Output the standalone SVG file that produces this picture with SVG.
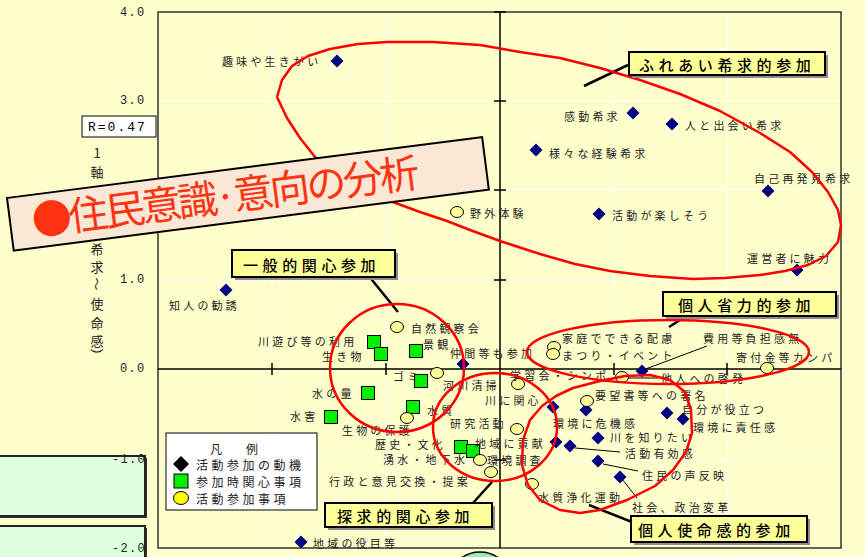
<svg xmlns="http://www.w3.org/2000/svg" width="865" height="557" viewBox="0 0 865 557">
<style>
.lb{font-family:"Noto Sans CJK JP","Noto Sans CJK SC",sans-serif;font-size:11px;letter-spacing:3.2px;fill:#222;dominant-baseline:central}
.ax{font-family:"Liberation Mono",monospace;font-size:12px;letter-spacing:1.3px;fill:#222;dominant-baseline:central}
.vt{font-family:"Noto Sans CJK JP",sans-serif;font-size:13px;fill:#222;text-anchor:middle;dominant-baseline:central}
.lg{font-family:"Noto Sans CJK JP",sans-serif;font-size:12px;letter-spacing:3.5px;fill:#222;dominant-baseline:central}
.co{font-family:"Noto Sans CJK JP",sans-serif;font-size:15px;letter-spacing:4.6px;fill:#000;dominant-baseline:central;font-weight:500}
.cob{fill:#FFFF99;stroke:#000;stroke-width:2}
.cos{fill:#8c8c8c}
.red{fill:none;stroke:#FF0000;stroke-width:2.5;stroke-linejoin:round}
.grid{stroke:#FFFFFF;stroke-width:1}
.ld{stroke:#000;stroke-width:1}
.ldt{stroke:#000;stroke-width:2.5}
</style>
<defs>
<path id="dm" d="M0,-6.5 L6.5,0 L0,6.5 L-6.5,0Z" fill="#000080"/>
<rect id="sq" x="-6.5" y="-6.5" width="13" height="13" fill="#00EE00" stroke="#000" stroke-width="1"/>
<ellipse id="ci" rx="6.5" ry="5.5" fill="#FFFF99" stroke="#000" stroke-width="1"/>
</defs>
<rect x="0" y="0" width="865" height="557" fill="#FFFFCC"/>
<g id="plot">
<rect x="158" y="12" width="683" height="536" fill="#FFFFCC" stroke="#333" stroke-width="1.5"/>
<g class="grid">
<line x1="272" y1="13" x2="272" y2="547"/><line x1="386" y1="13" x2="386" y2="547"/>
<line x1="614" y1="13" x2="614" y2="547"/><line x1="727" y1="13" x2="727" y2="547"/>
<line x1="159" y1="101" x2="840" y2="101"/><line x1="159" y1="190" x2="840" y2="190"/>
<line x1="159" y1="280" x2="840" y2="280"/><line x1="159" y1="460" x2="840" y2="460"/>
</g>
<g stroke="#000" stroke-width="1.5">
<line x1="500" y1="12" x2="500" y2="548"/><line x1="158" y1="369" x2="841" y2="369"/>
<line x1="494" y1="12" x2="506" y2="12"/><line x1="494" y1="101" x2="506" y2="101"/><line x1="494" y1="190" x2="506" y2="190"/><line x1="494" y1="280" x2="506" y2="280"/><line x1="494" y1="460" x2="506" y2="460"/>
<line x1="272" y1="363" x2="272" y2="375"/><line x1="386" y1="363" x2="386" y2="375"/><line x1="614" y1="363" x2="614" y2="375"/><line x1="727" y1="363" x2="727" y2="375"/>
</g>
</g>
<g id="leftboxes">
<rect x="0" y="458" width="147" height="60" fill="#333"/>
<rect x="-2" y="456" width="147" height="60" fill="#DDFFDD" stroke="#222" stroke-width="2"/>
<rect x="0" y="528" width="147" height="40" fill="#333"/>
<rect x="-2" y="526" width="147" height="40" fill="#DDFFDD" stroke="#222" stroke-width="2"/>
</g>
<ellipse cx="480" cy="576" rx="28" ry="24" fill="#99EEBB" stroke="#000" stroke-width="1.5"/>
<g id="axis">
<text class="ax" x="120" y="13">4.0</text>
<text class="ax" x="120" y="101">3.0</text>
<text class="ax" x="120" y="280">1.0</text>
<text class="ax" x="120" y="369">0.0</text>
<text class="ax" x="112" y="460">-1.0</text>
<text class="ax" x="112" y="549">-2.0</text>
<rect x="82" y="116" width="74" height="21" fill="#FFF" stroke="#000" stroke-width="1"/>
<text x="88" y="127" style="font-family:'Liberation Mono',monospace;font-size:13px;letter-spacing:2px;fill:#000;dominant-baseline:central">R=0.47</text>
<text class="vt" x="97" y="152">1</text>
<text class="vt" x="97" y="171">軸</text>
<text class="vt" x="97" y="248">希</text>
<text class="vt" x="97" y="266">求</text>
<text class="vt" x="97" y="284" transform="rotate(90 97 284)">～</text>
<text class="vt" x="97" y="303">使</text>
<text class="vt" x="97" y="322">命</text>
<text class="vt" x="97" y="340">感</text>
<text class="vt" x="97" y="355" transform="rotate(90 97 355)">）</text>
</g>
<g id="legend">
<rect x="166" y="433" width="151" height="77" fill="#FFF" stroke="#000" stroke-width="1"/>
<text x="210" y="448" style="font-family:'Noto Sans CJK JP',sans-serif;font-size:12px;fill:#222;dominant-baseline:central">凡　　例</text>
<path d="M181,456 L189,464 L181,472 L173,464Z" fill="#000"/>
<text class="lg" x="196" y="464">活動参加の動機</text>
<rect x="174" y="474" width="14" height="14" fill="#00EE00" stroke="#000"/>
<text class="lg" x="196" y="481">参加時関心事項</text>
<ellipse cx="181" cy="498" rx="7.5" ry="6.5" fill="#FFFF00" stroke="#000"/>
<text class="lg" x="196" y="498">活動参加事項</text>
</g>
<g id="connectors">
<line class="ld" x1="707" y1="346" x2="643" y2="370"/>
<line class="ld" x1="628" y1="378" x2="658" y2="378"/>
<line class="ld" x1="575" y1="448" x2="620" y2="452"/>
<line class="ld" x1="603" y1="464" x2="638" y2="471"/>
<line class="ld" x1="622" y1="479" x2="637" y2="498"/>
<line class="ldt" x1="584" y1="86" x2="628" y2="65"/>
<line class="ldt" x1="368" y1="275" x2="398" y2="312"/>
<line class="ldt" x1="688" y1="315" x2="669" y2="327"/>
<line class="ldt" x1="473" y1="503" x2="492" y2="482"/>
<line class="ldt" x1="589" y1="505" x2="632" y2="522"/>
</g>
<g id="markers">
<use href="#dm" x="337" y="61"/><use href="#dm" x="633" y="113"/><use href="#dm" x="672" y="124"/>
<use href="#dm" x="536" y="150"/><use href="#dm" x="768" y="191"/><use href="#dm" x="599" y="214"/>
<use href="#dm" x="797" y="270"/><use href="#dm" x="226" y="290"/><use href="#dm" x="463" y="364"/>
<use href="#dm" x="642" y="371"/><use href="#dm" x="553" y="407"/><use href="#dm" x="586" y="410"/>
<use href="#dm" x="667" y="413"/><use href="#dm" x="683" y="419"/><use href="#dm" x="598" y="438"/>
<use href="#dm" x="556" y="442"/><use href="#dm" x="570" y="446"/><use href="#dm" x="598" y="461"/>
<use href="#dm" x="620" y="477"/><use href="#dm" x="301" y="542"/>
<use href="#sq" x="374" y="342"/><use href="#sq" x="381" y="354"/><use href="#sq" x="416" y="351"/>
<use href="#sq" x="421" y="381"/><use href="#sq" x="368" y="393"/><use href="#sq" x="331" y="417"/>
<use href="#sq" x="413" y="407"/><use href="#sq" x="461" y="447"/><use href="#sq" x="473" y="451"/>
<use href="#ci" x="457" y="212"/><use href="#ci" x="397" y="327"/><use href="#ci" x="554" y="347"/>
<use href="#ci" x="553" y="354"/><use href="#ci" x="767" y="368"/><use href="#ci" x="518" y="384"/>
<use href="#ci" x="622" y="377"/><use href="#ci" x="437" y="373"/><use href="#ci" x="587" y="401"/>
<use href="#ci" x="517" y="429"/><use href="#ci" x="480" y="460"/><use href="#ci" x="491" y="472"/>
<use href="#ci" x="532" y="484"/><use href="#ci" x="407" y="418"/>
</g>
<g id="labels">
<text class="lb" x="222" y="61">趣味や生きがい</text>
<text class="lb" x="564" y="116">感動希求</text>
<text class="lb" x="685" y="125">人と出会い希求</text>
<text class="lb" x="549" y="153">様々な経験希求</text>
<text class="lb" x="754" y="178">自己再発見希求</text>
<text class="lb" x="612" y="215">活動が楽しそう</text>
<text class="lb" x="747" y="258">運営者に魅力</text>
<text class="lb" x="470" y="213">野外体験</text>
<text class="lb" x="169" y="305">知人の勧誘</text>
<text class="lb" x="411" y="328">自然観察会</text>
<text class="lb" x="258" y="341">川遊び等の利用</text>
<text class="lb" x="322" y="356">生き物</text>
<text class="lb" x="423" y="344">景観</text>
<text class="lb" x="450" y="353">仲間等も参加</text>
<text class="lb" x="562" y="338">家庭でできる配慮</text>
<text class="lb" x="562" y="355">まつり・イベント</text>
<text class="lb" x="703" y="338">費用等負担感無</text>
<text class="lb" x="736" y="357">寄付金等カンパ</text>
<text class="lb" x="510" y="375">学習会・シンポ</text>
<text class="lb" x="661" y="378">他人への啓発</text>
<text class="lb" x="443" y="385">河川清掃</text>
<text class="lb" x="393" y="376">ゴミ</text>
<text class="lb" x="485" y="400">川に関心</text>
<text class="lb" x="595" y="395">要望書等への署名</text>
<text class="lb" x="682" y="409">自分が役立つ</text>
<text class="lb" x="693" y="427">環境に責任感</text>
<text class="lb" x="553" y="423">環境に危機感</text>
<text class="lb" x="610" y="437">川を知りたい</text>
<text class="lb" x="475" y="443">地域に貢献</text>
<text class="lb" x="625" y="453">活動有効感</text>
<text class="lb" x="642" y="475">住民の声反映</text>
<text class="lb" x="632" y="507">社会、政治変革</text>
<text class="lb" x="538" y="497">水質浄化運動</text>
<text class="lb" x="487" y="460">環境調査</text>
<text class="lb" x="450" y="423">研究活動</text>
<text class="lb" x="329" y="481">行政と意見交換・提案</text>
<text class="lb" x="375" y="444">歴史・文化</text>
<text class="lb" x="383" y="459">湧水・地下水</text>
<text class="lb" x="312" y="393">水の量</text>
<text class="lb" x="290" y="416">水害</text>
<text class="lb" x="427" y="410">水質</text>
<text class="lb" x="342" y="430">生物の保護</text>
<text class="lb" x="313" y="543">地域の役目等</text>
</g>
<g id="groups">
<polyline class="red" points="277,97 282,80 292,66 308,56 330,49 358,44 387,42 433,42 480,45 520,52 560,58 600,68 640,80 680,94 720,111 760,133 790,152 812,172 828,192 838,210 841,225 838,242 826,256 808,265 785,271 760,275 725,278 693,279 650,276 610,271 575,264 540,254 500,241 470,230 447,221 420,212 390,201 360,188 335,172 315,157 300,138 287,118 277,97"/>
<ellipse class="red" cx="397" cy="368" rx="67" ry="64"/>
<ellipse class="red" cx="495" cy="427" rx="62" ry="54"/>
<ellipse class="red" cx="668" cy="352" rx="141" ry="32"/>
<polyline class="red" points="523,440 530,420 542,406 556,396 573,388 600,381 625,376 650,375 670,380 685,392 691,410 692,433 686,452 673,470 655,486 627,500 600,510 580,513 560,510 540,500 528,485 522,465 523,440"/>
</g>
<g id="callout1"><rect class="cos" x="632" y="55" width="196" height="23"/><rect class="cob" x="629" y="52" width="196" height="23"/><text class="co" x="639" y="64">ふれあい希求的参加</text></g>
<g id="callout2"><rect class="cos" x="235" y="253" width="163" height="27"/><rect class="cob" x="232" y="250" width="163" height="27"/><text class="co" x="243" y="264">一般的関心参加</text></g>
<g id="callout3"><rect class="cos" x="666" y="295" width="173" height="24"/><rect class="cob" x="663" y="292" width="173" height="24"/><text class="co" x="678" y="304">個人省力的参加</text></g>
<g id="callout4"><rect class="cos" x="328" y="506" width="167" height="24"/><rect class="cob" x="325" y="503" width="167" height="24"/><text class="co" x="337" y="515">探求的関心参加</text></g>
<g id="callout5"><rect class="cos" x="634" y="519" width="176" height="26"/><rect class="cob" x="631" y="516" width="176" height="26"/><text class="co" x="638" y="529">個人使命感的参加</text></g>
<g id="banner" transform="translate(7,198) rotate(-7.3)">
<rect x="0" y="0" width="479" height="53" fill="#F9E8D6" stroke="#000" stroke-width="2"/>
<text x="22" y="41" textLength="390" lengthAdjust="spacing" style="font-family:'Noto Sans CJK JP',sans-serif;font-size:40px;fill:#FF3311">●住民意識·意向の分析</text>
</g>
</svg>
